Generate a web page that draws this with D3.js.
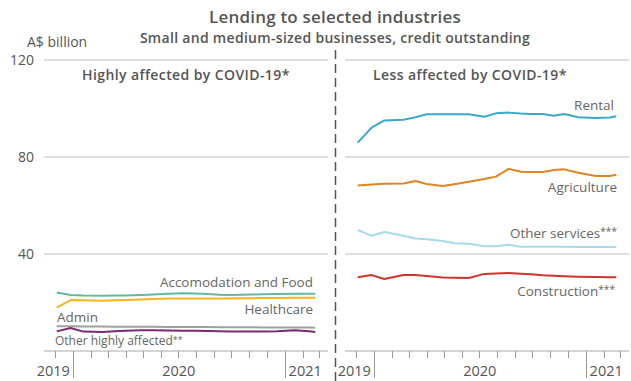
<!DOCTYPE html>
<html>
<head>
<meta charset="utf-8">
<script src="https://cdn.jsdelivr.net/npm/d3@7"></script>
<style>
  html, body { margin: 0; padding: 0; background: #fff; }
  svg { display: block; font-family: "Open Sans", Lato, sans-serif; }
</style>
</head>
<body>
<div id="chart"></div>
<script>
// observation dates (shared by every series)
const dates = ["2019-12-04", "2019-12-28", "2020-01-19", "2020-02-21", "2020-03-13", "2020-04-01",
  "2020-04-29", "2020-05-19", "2020-06-13", "2020-07-10", "2020-07-30", "2020-08-21", "2020-09-11",
  "2020-09-28", "2020-10-19", "2020-11-07", "2020-11-25", "2020-12-19", "2021-01-19", "2021-02-12",
  "2021-02-23"];

// highly affected industries, A$ billion
const accomFood = [24.1, 23.1, 22.9, 22.8, 22.9, 22.9, 23.1, 23.3, 23.6, 23.8, 23.7, 23.5, 23.2, 23.1, 23.2, 23.3, 23.4, 23.5, 23.6, 23.6, 23.6];
const healthcare = [17.9, 21.0, 20.9, 20.7, 20.9, 21.0, 21.2, 21.4, 21.6, 21.7, 21.7, 21.7, 21.7, 21.7, 21.8, 21.8, 21.9, 21.9, 22.0, 22.0, 22.0];
const admin = [10.2, 10.2, 10.1, 10.1, 10.0, 10.0, 10.0, 10.0, 9.9, 9.9, 9.9, 9.9, 9.8, 9.8, 9.8, 9.8, 9.7, 9.7, 9.7, 9.7, 9.6];
const otherHighly = [8.1, 9.5, 8.0, 7.8, 8.1, 8.4, 8.6, 8.6, 8.5, 8.4, 8.3, 8.2, 8.1, 8.0, 8.0, 8.0, 8.0, 8.1, 8.6, 8.1, 7.8];

// less affected industries, A$ billion
const rental = [85.9, 92.1, 95.1, 95.4, 96.4, 97.6, 97.6, 97.6, 97.6, 96.6, 98.0, 98.3, 97.9, 97.7, 97.7, 97.0, 97.7, 96.4, 96.1, 96.3, 96.8];
const agriculture = [68.2, 68.7, 69.0, 69.1, 70.1, 68.9, 68.0, 68.8, 69.8, 70.9, 71.9, 75.1, 73.9, 73.8, 73.8, 74.6, 74.9, 73.5, 72.2, 72.2, 72.7];
const otherServices = [49.9, 47.5, 49.1, 47.5, 46.4, 46.1, 45.4, 44.4, 44.2, 43.2, 43.2, 43.8, 43.0, 43.0, 43.0, 43.0, 43.0, 42.9, 42.9, 42.9, 42.9];
const construction = [30.4, 31.3, 29.7, 31.3, 31.3, 30.9, 30.35, 30.2, 30.1, 31.8, 32.0, 32.2, 31.9, 31.6, 31.2, 31.0, 30.8, 30.6, 30.5, 30.45, 30.4];

const yTicks = [0, 40, 80, 120];
const yearLabels = ["2019", "2020", "2021"];

const W = 631, H = 381;
const parse = d3.timeParse("%Y-%m-%d");
const when = dates.map(parse);

const svg = d3.select("#chart").append("svg").attr("width", W).attr("height", H);

const y = d3.scaleLinear().domain([0, 120]).range([351, 60]);

const panels = [
  {
    range: [44, 328], title: "Highly affected by COVID-19*", titleX: 82,
    series: [
      {name: "Accomodation and Food", values: accomFood, color: "#63b89f", lx: 313, ly: 287, anchor: "end"},
      {name: "Healthcare", values: healthcare, color: "#f6b51b", lx: 313, ly: 314, anchor: "end"},
      {name: "Admin", values: admin, color: "#a0a0a0", lx: 57, ly: 322, anchor: "start"},
      {name: "Other highly affected**", values: otherHighly, color: "#7a2a72", lx: 55, ly: 345, anchor: "start", small: true}
    ]
  },
  {
    range: [345, 629], title: "Less affected by COVID-19*", titleX: 373,
    series: [
      {name: "Rental", values: rental, color: "#3aa9c8", lx: 614, ly: 110, anchor: "end"},
      {name: "Agriculture", values: agriculture, color: "#e3831f", lx: 617, ly: 192, anchor: "end"},
      {name: "Other services***", values: otherServices, color: "#a8dbea", lx: 617, ly: 238, anchor: "end"},
      {name: "Construction***", values: construction, color: "#d2332b", lx: 615, ly: 296, anchor: "end"}
    ]
  }
];

const textCol = "#555";

// text with small raised asterisks
function labelText(sel, name, size) {
  const m = name.match(/^(.*?)(\**)$/);
  sel.append("tspan").text(m[1]);
  if (m[2]) {
    sel.append("tspan")
      .attr("dy", "-0.25em")
      .style("font-size", (size * 0.75) + "px")
      .text(m[2]);
  }
}

// headings
svg.append("text").attr("x", 335).attr("y", 23).attr("text-anchor", "middle")
  .style("font-size", "17px").style("font-weight", "600").style("fill", textCol)
  .style("letter-spacing", "0.2px")
  .text("Lending to selected industries");
svg.append("text").attr("x", 335).attr("y", 43).attr("text-anchor", "middle")
  .style("font-size", "14px").style("font-weight", "600").style("fill", textCol)
  .style("letter-spacing", "0.3px")
  .text("Small and medium-sized businesses, credit outstanding");
svg.append("text").attr("x", 27).attr("y", 47)
  .style("font-size", "14px").style("fill", textCol).text("A$ billion");

// y labels (shared, left side only)
svg.selectAll(".ylab").data(yTicks.filter(d => d > 0)).enter().append("text")
  .attr("class", "ylab")
  .attr("x", 34).attr("y", d => y(d)).attr("dy", "0.35em")
  .attr("text-anchor", "end")
  .style("font-size", "14px").style("fill", textCol)
  .text(d => d);

panels.forEach(p => {
  const x = d3.scaleTime()
    .domain([new Date(2019, 10, 12), new Date(2021, 2, 17)])
    .range(p.range);
  const g = svg.append("g");

  // gridlines
  g.selectAll(".grid").data(yTicks.filter(d => d > 0)).enter().append("line")
    .attr("x1", p.range[0]).attr("x2", p.range[1])
    .attr("y1", d => y(d)).attr("y2", d => y(d))
    .attr("stroke", "#bdbdbd").attr("stroke-width", 1);

  // x axis line
  g.append("line")
    .attr("x1", p.range[0]).attr("x2", p.range[1])
    .attr("y1", y(0)).attr("y2", y(0))
    .attr("stroke", "#aaa").attr("stroke-width", 1);

  // month ticks, longer at year boundaries
  const months = d3.timeMonth.range(new Date(2019, 11, 1), new Date(2021, 2, 2));
  g.selectAll(".tick").data(months).enter().append("line")
    .attr("x1", d => Math.round(x(d)) + 0.5).attr("x2", d => Math.round(x(d)) + 0.5)
    .attr("y1", y(0)).attr("y2", d => d.getMonth() === 0 ? 378 : 358)
    .attr("stroke", "#999").attr("stroke-width", 1);

  // year labels
  const jan20 = x(new Date(2020, 0, 1)), jan21 = x(new Date(2021, 0, 1));
  const yearPos = [
    {x: jan20 - 3, anchor: "end"},
    {x: (jan20 + jan21) / 2, anchor: "middle"},
    {x: jan21 + 4, anchor: "start"}
  ];
  g.selectAll(".year").data(yearLabels).enter().append("text")
    .attr("x", (d, i) => yearPos[i].x).attr("y", 376)
    .attr("text-anchor", (d, i) => yearPos[i].anchor)
    .style("font-size", "14.5px").style("fill", textCol)
    .text(d => d);

  // panel title
  g.append("text").attr("x", p.titleX).attr("y", 80)
    .style("font-size", "14px").style("font-weight", "600").style("fill", textCol)
    .style("letter-spacing", "0.4px")
    .text(p.title);

  const line = d3.line().x((d, i) => x(when[i])).y(d => y(d));

  p.series.forEach(s => {
    g.append("path").datum(s.values)
      .attr("d", line)
      .attr("fill", "none")
      .attr("stroke", s.color)
      .attr("stroke-width", 2)
      .attr("stroke-linejoin", "round");
    const size = s.small ? 12 : 13.5;
    const t = g.append("text").attr("x", s.lx).attr("y", s.ly)
      .attr("text-anchor", s.anchor)
      .style("font-size", size + "px")
      .style("fill", "#666");
    labelText(t, s.name, size);
  });
});

// dashed divider between panels
svg.append("line")
  .attr("x1", 335.5).attr("x2", 335.5).attr("y1", 50).attr("y2", H)
  .attr("stroke", "#555").attr("stroke-width", 1.5)
  .attr("stroke-dasharray", "9,5");
</script>
</body>
</html>
